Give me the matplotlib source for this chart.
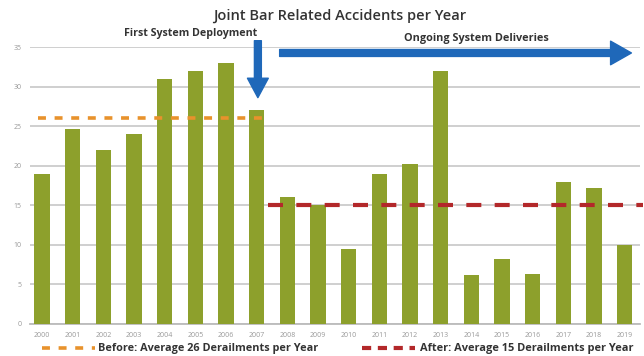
import matplotlib
matplotlib.use('Agg')
import matplotlib.pyplot as plt
from matplotlib.lines import Line2D

# data
years = [str(y) for y in range(2000, 2020)]
accidents = [19, 24.7, 22, 24, 31, 32, 33, 27, 16, 15,
             9.5, 19, 20.2, 32, 6.2, 8.2, 6.3, 18, 17.2, 10]
before_avg = 26
after_avg = 15
yticks = [0, 5, 10, 15, 20, 25, 30, 35]

bar_color = '#8da02c'
orange = '#e8922c'
red = '#b3282a'
blue = '#1f68b9'

plt.rcParams['font.family'] = ['Open Sans', 'DejaVu Sans']

fig = plt.figure(figsize=(6.44, 3.56), dpi=100)
ax = fig.add_axes([0.0466, 0.0899, 0.9472, 0.778])

x = list(range(len(years)))
ax.bar(x, accidents, width=0.5, color=bar_color, zorder=3)
ax.set_xlim(-0.39, 19.5)
ax.set_ylim(0, 35)
ax.set_yticks(yticks)
ax.set_xticks(x)
ax.set_xticklabels(years)
ax.tick_params(length=0, labelsize=5, labelcolor='#999999', pad=6)
ax.grid(True, axis='y', color='#cccccc', lw=1.3, zorder=0)
for s in ['top', 'right', 'left']:
    ax.spines[s].set_visible(False)
ax.spines['bottom'].set_color('#bbbbbb')
ax.spines['bottom'].set_linewidth(1.3)

# average lines
ax.plot([-0.13, 7.2], [before_avg, before_avg], color=orange, lw=2.6,
        dashes=(2.2, 2.4), zorder=4, clip_on=False)
ax.plot([7.36, 19.6], [after_avg, after_avg], color=red, lw=3.0,
        dashes=(3.6, 3.2), zorder=4, clip_on=False)

# arrows
ax.annotate('', xy=(7.04, 28.6), xytext=(7.04, 35.8),
            arrowprops=dict(arrowstyle='simple,head_width=1.5,head_length=1.4,tail_width=0.5',
                            color=blue, shrinkA=0, shrinkB=0),
            annotation_clip=False, zorder=5)
ax.annotate('', xy=(19.22, 34.25), xytext=(7.75, 34.25),
            arrowprops=dict(arrowstyle='simple,head_width=1.7,head_length=1.5,tail_width=0.5',
                            color=blue, shrinkA=0, shrinkB=0),
            annotation_clip=False, zorder=5)

# text
fig.text(0.528, 0.955, 'Joint Bar Related Accidents per Year', ha='center', va='center',
         fontsize=10.5, fontweight='semibold', color='#333333')
fig.text(0.296, 0.907, 'First System Deployment', ha='center', va='center',
         fontsize=7.7, fontweight='bold', color='#333333')
fig.text(0.740, 0.893, 'Ongoing System Deliveries', ha='center', va='center',
         fontsize=7.8, fontweight='bold', color='#333333')

# legend at bottom
fig.add_artist(Line2D([42 / 644, 95 / 644], [1 - 348 / 356] * 2, color=orange,
                      lw=2.6, dashes=(2.2, 2.4), transform=fig.transFigure))
fig.text(98 / 644, 1 - 348 / 356, 'Before: Average 26 Derailments per Year', ha='left',
         va='center', fontsize=7.8, fontweight='bold', color='#333333')
fig.add_artist(Line2D([362 / 644, 415 / 644], [1 - 348 / 356] * 2, color=red,
                      lw=3.0, dashes=(2.2, 1.6), transform=fig.transFigure))
fig.text(420 / 644, 1 - 348 / 356, 'After: Average 15 Derailments per Year', ha='left',
         va='center', fontsize=7.9, fontweight='bold', color='#333333')

fig.savefig('out.png', dpi=100)
